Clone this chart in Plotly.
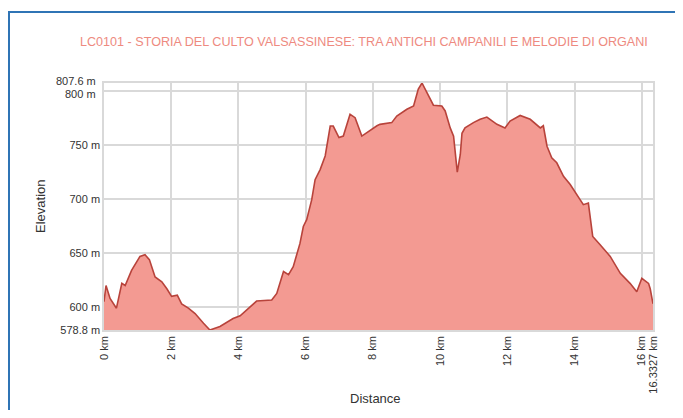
import plotly.graph_objects as go

title_text = "LC0101 - STORIA DEL CULTO VALSASSINESE: TRA ANTICHI CAMPANILI E MELODIE DI ORGANI"
x_title = "Distance"
y_title = "Elevation"

distance_km = [0.00, 0.06, 0.18, 0.37, 0.53, 0.63, 0.82, 0.92, 1.07, 1.22, 1.35, 1.52, 1.72, 1.87,
               2.01, 2.18, 2.31, 2.51, 2.71, 2.96, 3.15, 3.45, 3.84, 4.05, 4.44, 4.54, 4.99, 5.14,
               5.34, 5.49, 5.63, 5.83, 5.93, 6.03, 6.18, 6.28, 6.43, 6.58, 6.73, 6.82, 6.99, 7.12,
               7.32, 7.47, 7.67, 7.82, 7.87, 8.12, 8.21, 8.56, 8.71, 9.01, 9.21, 9.35, 9.46, 9.55,
               9.70, 9.80, 10.05, 10.15, 10.30, 10.40, 10.51, 10.60, 10.65, 10.74, 10.99, 11.19,
               11.39, 11.69, 11.93, 12.08, 12.38, 12.68, 12.98, 13.07, 13.18, 13.32, 13.47, 13.67,
               13.87, 14.12, 14.26, 14.41, 14.54, 14.76, 15.06, 15.36, 15.65, 15.85, 16.00, 16.20,
               16.25, 16.3327]
elevation_m = [605, 620, 608, 599, 622, 620, 634, 639, 647, 648.5, 644, 628, 623.5, 617,
               610, 611, 603, 599, 594, 585, 578.8, 582, 589.5, 592, 603, 605.6, 606.5, 612.7,
               633, 630, 637.5, 659, 674.7, 681, 699.5, 718, 727.4, 740, 767.7, 767.7, 757, 758.4,
               778.6, 775.5, 758.4, 761.6, 763, 768, 769.3, 770.9, 777, 783.3, 786.3, 801.9, 807.6, 801.9,
               792, 787, 786.3, 781.7, 766, 758.4, 725, 741.4, 761, 766, 770.9, 774,
               776, 769.3, 766, 772.4, 777.5, 774, 766, 768, 749, 738.3, 733.7, 721.2,
               713.5, 701, 694.9, 696.4, 665.4, 657.7, 647, 631.3, 622, 614.2, 626.7, 622,
               617, 603]

x_tick_vals = [0, 2, 4, 6, 8, 10, 12, 14, 16, 16.3327]
x_tick_text = ["0 km", "2 km", "4 km", "6 km", "8 km", "10 km", "12 km", "14 km", "16 km", "16.3327 km"]
y_tick_vals = [578.8, 600, 650, 700, 750, 800, 807.6]
y_tick_text = ["578.8 m", "600 m", "650 m", "700 m", "750 m", "800 m", "807.6 m"]

# page has an 8 px body margin on every side; size the figure so nothing scrolls
OFF = 8
PAGE_W, PAGE_H = 683, 418
W, H = PAGE_W - 2 * OFF, PAGE_H - 2 * OFF
# plot area in page pixels: x 104..653, y 83..330
ML = 104 - OFF
MT = 83 - OFF
MR = W - (653 - OFF)
MB = H - (330 - OFF)
PW, PH = W - ML - MR, H - MT - MB


def px_x(p):
    return (p - OFF - ML) / PW


def px_y(p):
    return (H - MB - (p - OFF)) / PH


fig = go.Figure()
fig.add_trace(go.Scatter(
    x=distance_km, y=elevation_m, mode="lines",
    line=dict(color="#b8433b", width=1.6),
    fill="tozeroy", fillcolor="#f39a92",
    hoverinfo="x+y", showlegend=False,
))

# the two top labels are only ~8 px apart; the axis shows the lower ones,
# the top pair is drawn as slightly spread text next to the axis
axis_text = y_tick_text[:-2]
top_pair = list(zip(y_tick_vals[-2:], y_tick_text[-2:]))

grid = "#d9d9d9"
tick_font = dict(size=11, color="#333333")

fig.update_layout(
    width=W, height=H,
    margin=dict(l=ML, r=MR, t=MT, b=MB),
    paper_bgcolor="white", plot_bgcolor="white",
    font=dict(family="Liberation Sans, Arial, sans-serif", color="#333333", size=11),
    xaxis=dict(
        range=[0, 16.3327], tickvals=x_tick_vals, ticktext=x_tick_text,
        tickangle=-90, showgrid=True, gridcolor=grid, gridwidth=1.5,
        showline=True, linecolor=grid, linewidth=1.5, mirror=True,
        zeroline=False, ticks="", tickfont=tick_font, automargin=False,
    ),
    yaxis=dict(
        range=[578.8, 807.6], tickvals=y_tick_vals, ticktext=axis_text + ["", ""],
        showgrid=True, gridcolor=grid, gridwidth=1.5,
        showline=True, linecolor=grid, linewidth=1.5, mirror=True,
        zeroline=False, ticks="", tickfont=tick_font, automargin=False,
    ),
)

annotations = [
    dict(text=title_text, xref="paper", yref="paper",
         x=px_x(364), y=px_y(42), xanchor="center", yanchor="middle",
         showarrow=False, font=dict(size=12.6, color="#ee8a80")),
    dict(text=x_title, xref="paper", yref="paper",
         x=px_x(375), y=px_y(398), xanchor="center", yanchor="middle",
         showarrow=False, font=dict(size=13, color="#333333")),
    dict(text=y_title, xref="paper", yref="paper", textangle=-90,
         x=px_x(40), y=px_y(207), xanchor="center", yanchor="middle",
         showarrow=False, font=dict(size=13, color="#333333")),
]
for (val, txt), shift in zip(top_pair, [-2.5, 2.5]):
    annotations.append(dict(
        text=txt, xref="paper", yref="y", x=px_x(98), y=val,
        xanchor="right", yanchor="middle", yshift=shift,
        showarrow=False, font=tick_font,
    ))

fig.update_layout(
    annotations=annotations,
    shapes=[dict(
        type="rect", xref="paper", yref="paper",
        x0=px_x(9), x1=px_x(PAGE_W + 20), y0=px_y(PAGE_H + 20), y1=px_y(12),
        line=dict(color="#2f74b5", width=2), fillcolor="rgba(0,0,0,0)", layer="above",
    )],
)

fig.write_html("out.html")
